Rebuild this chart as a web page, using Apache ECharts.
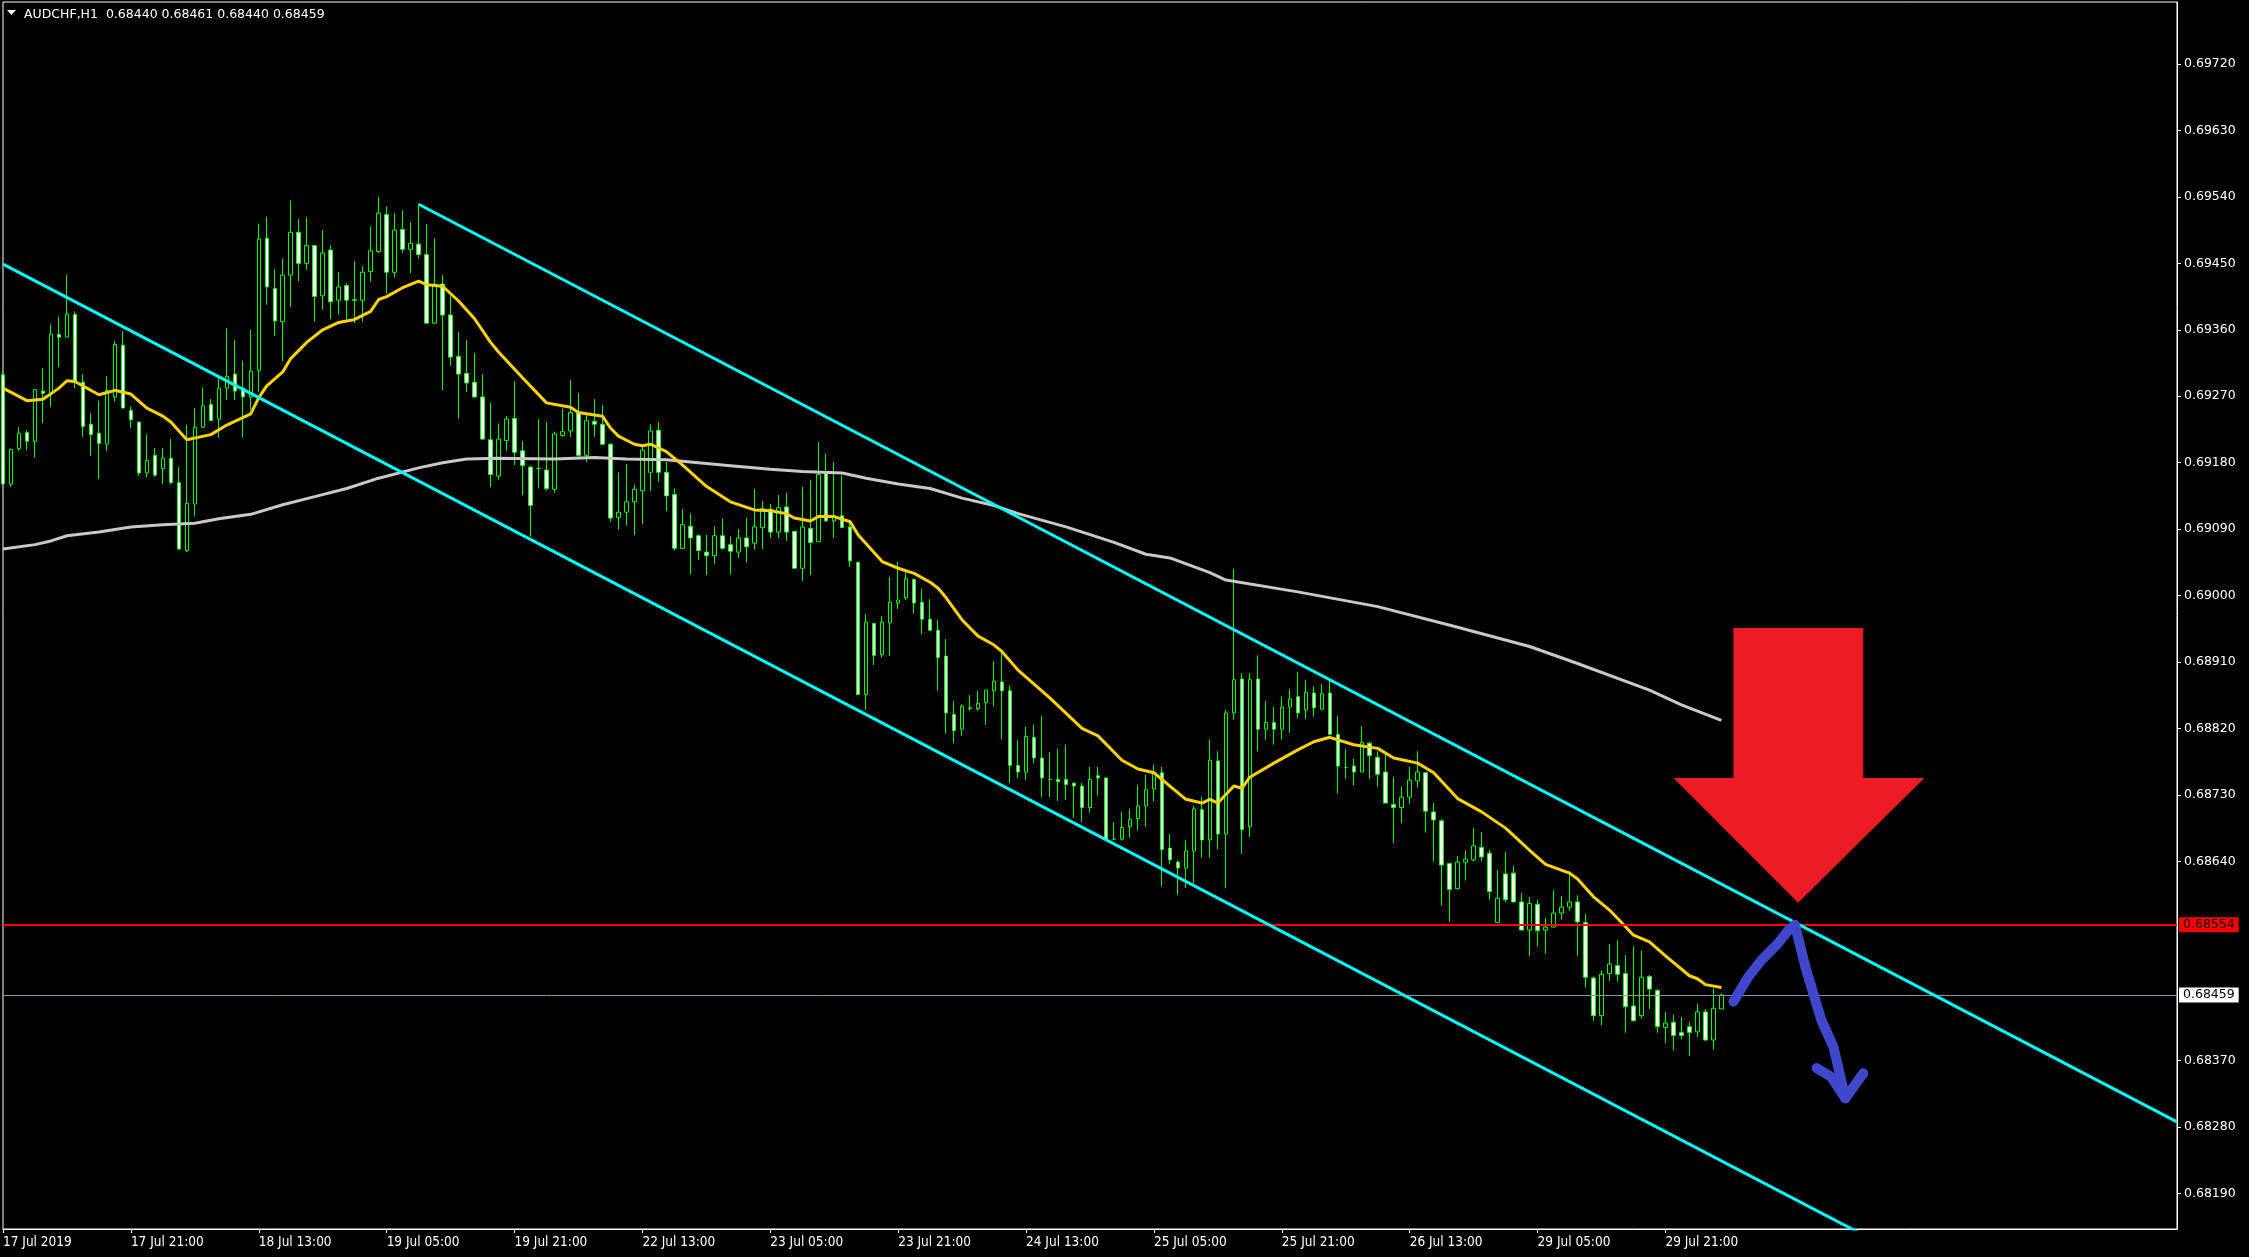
<!DOCTYPE html>
<html><head><meta charset="utf-8">
<script src="https://cdn.jsdelivr.net/npm/echarts@6/dist/echarts.min.js"></script>
<style>html,body{margin:0;padding:0;background:#000;}#c{width:2249px;height:1257px;}</style>
</head><body><div id="c"></div>
<script>
const symbolName = 'AUDCHF,H1';
const xTickLabels = ['17 Jul 2019','17 Jul 21:00','18 Jul 13:00','19 Jul 05:00','19 Jul 21:00','22 Jul 13:00','23 Jul 05:00','23 Jul 21:00','24 Jul 13:00','25 Jul 05:00','25 Jul 21:00','26 Jul 13:00','29 Jul 05:00','29 Jul 21:00'];
const barsPerLabel = 16;
const totalSlots = 273;
const yTickValues = [0.68190,0.68280,0.68370,0.68640,0.68730,0.68820,0.68910,0.69000,0.69090,0.69180,0.69270,0.69360,0.69450,0.69540,0.69630,0.69720];
const yMin = 0.68142, yMax = 0.69804;

const opens = [
0.69299,0.69151,0.69199,0.69221,0.69209,0.69277,0.69274,0.69354,0.69350,0.69381,
0.69289,0.69232,0.69220,0.69205,0.69269,0.69339,0.69251,0.69235,0.69166,0.69190,
0.69172,0.69186,0.69153,0.69061,0.69124,0.69228,0.69259,0.69239,0.69281,0.69300,
0.69281,0.69269,0.69305,0.69484,0.69416,0.69371,0.69434,0.69492,0.69450,0.69474,
0.69406,0.69468,0.69400,0.69420,0.69401,0.69400,0.69439,0.69466,0.69516,0.69438,
0.69496,0.69469,0.69476,0.69462,0.69369,0.69422,0.69380,0.69324,0.69301,0.69289,
0.69269,0.69211,0.69162,0.69210,0.69240,0.69196,0.69174,0.69172,0.69170,0.69144,
0.69217,0.69223,0.69248,0.69190,0.69236,0.69232,0.69205,0.69106,0.69113,0.69127,
0.69142,0.69167,0.69224,0.69167,0.69137,0.69064,0.69094,0.69081,0.69059,0.69054,
0.69081,0.69069,0.69059,0.69078,0.69071,0.69092,0.69117,0.69086,0.69120,0.69087,
0.69037,0.69091,0.69073,0.69166,0.69101,0.69108,0.69093,0.69045,0.68866,0.68962,
0.68920,0.68963,0.68990,0.68997,0.69022,0.68991,0.68968,0.68953,0.68918,0.68839,
0.68819,0.68847,0.68847,0.68855,0.68871,0.68883,0.68871,0.68770,0.68761,0.68808,
0.68780,0.68751,0.68751,0.68751,0.68746,0.68742,0.68713,0.68756,0.68753,0.68670,
0.68670,0.68687,0.68698,0.68715,0.68738,0.68760,0.68658,0.68639,0.68631,0.68654,
0.68710,0.68669,0.68776,0.68677,0.68841,0.68887,0.68687,0.68887,0.68819,0.68828,
0.68819,0.68849,0.68863,0.68845,0.68868,0.68846,0.68868,0.68812,0.68767,0.68769,
0.68761,0.68800,0.68781,0.68761,0.68717,0.68713,0.68727,0.68749,0.68760,0.68707,
0.68695,0.68637,0.68603,0.68639,0.68642,0.68659,0.68651,0.68557,0.68623,0.68624,
0.68585,0.68547,0.68582,0.68547,0.68551,0.68570,0.68578,0.68585,0.68557,0.68482,
0.68431,0.68488,0.68499,0.68488,0.68444,0.68431,0.68484,0.68465,0.68415,0.68422,
0.68408,0.68416,0.68409,0.68436,0.68398,0.68440];

const highs = [
0.69306,0.69199,0.69228,0.69224,0.69279,0.69308,0.69367,0.69378,0.69434,0.69385,
0.69300,0.69247,0.69264,0.69297,0.69345,0.69358,0.69256,0.69235,0.69218,0.69200,
0.69200,0.69212,0.69174,0.69231,0.69254,0.69282,0.69266,0.69297,0.69362,0.69346,
0.69318,0.69360,0.69504,0.69513,0.69442,0.69456,0.69535,0.69510,0.69512,0.69475,
0.69495,0.69474,0.69438,0.69423,0.69453,0.69446,0.69500,0.69540,0.69527,0.69518,
0.69522,0.69506,0.69530,0.69503,0.69484,0.69434,0.69407,0.69357,0.69346,0.69328,
0.69300,0.69261,0.69233,0.69243,0.69290,0.69209,0.69176,0.69239,0.69235,0.69222,
0.69253,0.69292,0.69274,0.69247,0.69266,0.69258,0.69206,0.69167,0.69178,0.69150,
0.69202,0.69232,0.69235,0.69181,0.69145,0.69117,0.69111,0.69083,0.69082,0.69094,
0.69104,0.69080,0.69090,0.69105,0.69144,0.69128,0.69124,0.69136,0.69139,0.69087,
0.69147,0.69157,0.69208,0.69192,0.69181,0.69163,0.69100,0.69046,0.68975,0.68962,
0.68972,0.69025,0.69046,0.69035,0.69022,0.69009,0.68995,0.68967,0.68941,0.68857,
0.68853,0.68865,0.68871,0.68872,0.68911,0.68924,0.68878,0.68804,0.68822,0.68825,
0.68837,0.68788,0.68792,0.68798,0.68746,0.68746,0.68768,0.68768,0.68753,0.68693,
0.68707,0.68711,0.68743,0.68757,0.68771,0.68768,0.68677,0.68641,0.68669,0.68715,
0.68727,0.68805,0.68789,0.68845,0.69036,0.68895,0.68895,0.68919,0.68857,0.68849,
0.68863,0.68873,0.68896,0.68886,0.68877,0.68880,0.68885,0.68837,0.68792,0.68779,
0.68823,0.68802,0.68789,0.68785,0.68754,0.68741,0.68768,0.68789,0.68760,0.68719,
0.68697,0.68638,0.68647,0.68655,0.68685,0.68680,0.68655,0.68628,0.68653,0.68634,
0.68597,0.68592,0.68588,0.68563,0.68601,0.68593,0.68627,0.68594,0.68569,0.68484,
0.68492,0.68528,0.68533,0.68513,0.68525,0.68519,0.68486,0.68467,0.68436,0.68432,
0.68429,0.68422,0.68447,0.68440,0.68468,0.68461];

const lows = [
0.69148,0.69147,0.69196,0.69197,0.69187,0.69234,0.69256,0.69310,0.69350,0.69281,
0.69215,0.69189,0.69158,0.69196,0.69263,0.69254,0.69227,0.69162,0.69160,0.69161,
0.69151,0.69151,0.69062,0.69059,0.69107,0.69227,0.69236,0.69214,0.69265,0.69265,
0.69214,0.69251,0.69276,0.69394,0.69352,0.69318,0.69391,0.69426,0.69441,0.69371,
0.69387,0.69375,0.69381,0.69372,0.69369,0.69371,0.69425,0.69464,0.69409,0.69431,
0.69464,0.69437,0.69457,0.69369,0.69369,0.69278,0.69311,0.69240,0.69276,0.69269,
0.69211,0.69147,0.69157,0.69196,0.69177,0.69136,0.69080,0.69145,0.69142,0.69139,
0.69215,0.69215,0.69188,0.69181,0.69215,0.69204,0.69100,0.69089,0.69095,0.69082,
0.69097,0.69142,0.69154,0.69115,0.69061,0.69064,0.69029,0.69048,0.69028,0.69043,
0.69062,0.69029,0.69051,0.69045,0.69062,0.69063,0.69078,0.69078,0.69074,0.69037,
0.69020,0.69028,0.69073,0.69100,0.69078,0.69092,0.69039,0.68866,0.68845,0.68906,
0.68916,0.68918,0.68982,0.68994,0.68976,0.68948,0.68953,0.68871,0.68813,0.68800,
0.68810,0.68844,0.68844,0.68825,0.68850,0.68805,0.68746,0.68753,0.68750,0.68773,
0.68727,0.68727,0.68722,0.68723,0.68699,0.68693,0.68706,0.68729,0.68669,0.68669,
0.68668,0.68672,0.68682,0.68687,0.68721,0.68606,0.68636,0.68595,0.68604,0.68610,
0.68645,0.68645,0.68656,0.68604,0.68832,0.68650,0.68673,0.68789,0.68805,0.68798,
0.68805,0.68814,0.68834,0.68833,0.68836,0.68845,0.68812,0.68732,0.68752,0.68743,
0.68761,0.68752,0.68741,0.68719,0.68665,0.68692,0.68718,0.68740,0.68679,0.68640,
0.68580,0.68558,0.68602,0.68614,0.68640,0.68640,0.68588,0.68557,0.68585,0.68585,
0.68546,0.68512,0.68525,0.68515,0.68551,0.68561,0.68573,0.68512,0.68469,0.68424,
0.68418,0.68478,0.68477,0.68408,0.68424,0.68427,0.68440,0.68408,0.68394,0.68384,
0.68399,0.68376,0.68402,0.68397,0.68385,0.68440];

const closes = [
0.69151,0.69198,0.69220,0.69209,0.69279,0.69274,0.69354,0.69350,0.69381,0.69290,
0.69229,0.69218,0.69206,0.69278,0.69340,0.69254,0.69238,0.69166,0.69183,0.69163,
0.69186,0.69153,0.69063,0.69125,0.69228,0.69257,0.69237,0.69281,0.69297,0.69277,
0.69269,0.69304,0.69483,0.69418,0.69372,0.69434,0.69492,0.69450,0.69474,0.69405,
0.69464,0.69398,0.69418,0.69400,0.69400,0.69438,0.69467,0.69518,0.69438,0.69495,
0.69469,0.69477,0.69462,0.69369,0.69422,0.69380,0.69323,0.69300,0.69288,0.69269,
0.69212,0.69164,0.69212,0.69239,0.69194,0.69176,0.69122,0.69172,0.69145,0.69219,
0.69222,0.69248,0.69190,0.69237,0.69232,0.69205,0.69105,0.69113,0.69127,0.69144,
0.69197,0.69223,0.69167,0.69135,0.69064,0.69096,0.69078,0.69061,0.69054,0.69081,
0.69064,0.69060,0.69078,0.69066,0.69093,0.69118,0.69086,0.69119,0.69086,0.69037,
0.69093,0.69072,0.69164,0.69101,0.69108,0.69092,0.69047,0.68866,0.68964,0.68919,
0.68964,0.68991,0.68994,0.69023,0.68990,0.68968,0.68953,0.68916,0.68841,0.68817,
0.68850,0.68848,0.68854,0.68872,0.68884,0.68871,0.68770,0.68761,0.68809,0.68780,
0.68753,0.68751,0.68748,0.68744,0.68742,0.68713,0.68751,0.68753,0.68670,0.68670,
0.68686,0.68697,0.68715,0.68737,0.68759,0.68656,0.68642,0.68631,0.68654,0.68711,
0.68669,0.68777,0.68677,0.68841,0.68886,0.68683,0.68886,0.68819,0.68828,0.68819,
0.68849,0.68860,0.68841,0.68869,0.68848,0.68867,0.68812,0.68769,0.68767,0.68761,
0.68801,0.68783,0.68758,0.68719,0.68713,0.68727,0.68750,0.68761,0.68708,0.68696,
0.68635,0.68602,0.68639,0.68643,0.68661,0.68646,0.68599,0.68590,0.68588,0.68585,
0.68547,0.68583,0.68546,0.68551,0.68570,0.68578,0.68585,0.68558,0.68483,0.68431,
0.68487,0.68501,0.68487,0.68443,0.68424,0.68483,0.68467,0.68416,0.68421,0.68404,
0.68404,0.68408,0.68436,0.68398,0.68441,0.68459];

// Moving averages: [bar index, value]
const maFast = [[0,0.69281],[3,0.69264],[5,0.69266],[7,0.69281],[8,0.69291],[9,0.69290],[12,0.69272],[14,0.69278],[16,0.69273],[18,0.69254],[20,0.69243],[21,0.69235],[23,0.69211],[26,0.69218],[28,0.69231],[31,0.69246],[32,0.69268],[33,0.69284],[35,0.69303],[36,0.69321],[38,0.69343],[40,0.69360],[42,0.69370],[44,0.69374],[46,0.69385],[47,0.69401],[48,0.69405],[50,0.69417],[52,0.69426],[53,0.69421],[55,0.69419],[57,0.69399],[59,0.69375],[61,0.69343],[62,0.69330],[65,0.69295],[68,0.69261],[71,0.69255],[72,0.69248],[75,0.69243],[76,0.69227],[77,0.69216],[79,0.69205],[80,0.69203],[81,0.69205],[83,0.69195],[85,0.69177],[88,0.69148],[91,0.69127],[94,0.69116],[96,0.69115],[98,0.69111],[99,0.69105],[101,0.69101],[102,0.69107],[104,0.69107],[106,0.69100],[107,0.69082],[110,0.69046],[112,0.69037],[114,0.69030],[116,0.69018],[117,0.69010],[118,0.68997],[120,0.68967],[122,0.68945],[124,0.68933],[125,0.68924],[127,0.68899],[131,0.68861],[135,0.68820],[137,0.68810],[140,0.68777],[142,0.68765],[144,0.68760],[146,0.68742],[148,0.68724],[150,0.68719],[151,0.68724],[152,0.68719],[154,0.68742],[155,0.68739],[156,0.68754],[159,0.68773],[162,0.68791],[164,0.68802],[166,0.68808],[169,0.68798],[172,0.68793],[174,0.68780],[177,0.68773],[179,0.68760],[182,0.68725],[185,0.68707],[188,0.68685],[190,0.68665],[191,0.68655],[193,0.68636],[196,0.68624],[197,0.68616],[199,0.68592],[201,0.68574],[202,0.68563],[204,0.68540],[206,0.68531],[208,0.68512],[211,0.68485],[212,0.68481],[213,0.68473],[215,0.68469]];
const maSlow = [[0,0.69063],[4,0.69069],[6,0.69074],[8,0.69081],[12,0.69086],[16,0.69093],[20,0.69096],[24,0.69098],[27,0.69104],[31,0.69110],[35,0.69123],[39,0.69134],[43,0.69145],[47,0.69159],[52,0.69173],[55,0.69180],[58,0.69185],[62,0.69186],[69,0.69185],[74,0.69187],[78,0.69185],[83,0.69184],[87,0.69180],[91,0.69176],[96,0.69171],[100,0.69168],[105,0.69166],[108,0.69159],[112,0.69151],[116,0.69145],[120,0.69132],[124,0.69122],[127,0.69111],[133,0.69093],[139,0.69072],[143,0.69056],[146,0.69051],[151,0.69031],[153,0.69021],[162,0.69005],[172,0.68985],[182,0.68957],[191,0.68931],[197,0.68908],[206,0.68872],[210,0.68852],[215,0.68831]];

// Channel trend lines: [bar index, price]
const channelLower = [[0,0.69449],[240,0.68093]];
const channelUpper = [[52,0.69530],[272,0.68287]];
const resistanceLevel = 0.68554;

// Hand-drawn annotations in data space: [bar index, price]
const redArrow = [[216.5,0.68956],[232.75,0.68956],[232.75,0.68753],[240.4,0.68753],[224.6,0.68584],[209,0.68753],[216.5,0.68753]];
const bluePath = [[216.5,0.68450],[218.4,0.68484],[220.0,0.68506],[222.1,0.68529],[223.4,0.68547],[224.2,0.68554],[225.5,0.68497],[227.5,0.68425],[229.0,0.68389],[229.6,0.68362],[230.5,0.68319]];
const blueHead = [[226.9,0.68360],[228.75,0.68348],[230.5,0.68319],[232.75,0.68353]];

const n = opens.length;
const slots = [];
for (let i = 0; i < totalSlots; i++) slots.push('b' + i);
const candleData = opens.map((o, i) => [o, closes[i], lows[i], highs[i]]);
const last = n - 1;
const fmt = v => v.toFixed(5);
const header = symbolName + '  ' + fmt(opens[last]) + ' ' + fmt(highs[last]) + ' ' + fmt(lows[last]) + ' ' + fmt(closes[last]);
const lastClose = closes[last];

const showTick = (idx) => idx % barsPerLabel === 0 && idx / barsPerLabel < xTickLabels.length;

const chart = echarts.init(document.getElementById('c'), null, {renderer: 'canvas', width: 2249, height: 1257});
const axisFont = 'DejaVu Sans';
const priceLabel = (bg) => ({show: true, position: 'end', distance: 2, color: '#000', backgroundColor: bg, fontSize: 12.5, fontFamily: axisFont, padding: [1, 4, 1, 4]});
const option = {
  backgroundColor: '#000',
  animation: false,
  title: {
    text: header, left: 24, top: 8, padding: 0,
    textStyle: {color: '#fff', fontSize: 12.5, fontWeight: 'normal', fontFamily: axisFont}
  },
  grid: {left: 3, right: 72, top: 2, bottom: 28, show: true, backgroundColor: '#000', borderColor: '#fff', borderWidth: 1},
  xAxis: {
    type: 'category', data: slots, boundaryGap: false,
    axisLine: {show: true, lineStyle: {color: '#fff', width: 1}},
    axisTick: {show: true, length: 4, interval: showTick, lineStyle: {color: '#fff'}},
    axisLabel: {
      show: true, interval: showTick, align: 'left', margin: 6,
      formatter: (v, i) => showTick(i) ? xTickLabels[i / barsPerLabel] : '',
      color: '#fff', fontFamily: 'DejaVu Sans Condensed', fontSize: 13.5
    },
    splitLine: {show: false}
  },
  yAxis: {
    type: 'value', position: 'right', min: yMin, max: yMax, scale: true,
    splitLine: {show: false},
    axisLine: {show: true, onZero: false, lineStyle: {color: '#fff', width: 1}},
    axisTick: {show: true, length: 4, customValues: yTickValues, lineStyle: {color: '#fff'}},
    axisLabel: {customValues: yTickValues, formatter: v => v.toFixed(5), color: '#fff', fontSize: 12.5, fontFamily: axisFont, margin: 7}
  },
  series: [
    {
      type: 'candlestick', data: candleData, barWidth: 4, z: 2,
      itemStyle: {color: '#000', color0: '#fff', borderColor: '#00ff00', borderColor0: '#00ff00', borderColorDoji: '#00ff00', borderWidth: 1}
    },
    {
      type: 'line', data: maSlow, symbol: 'none', z: 3, lineStyle: {color: '#c8c8c8', width: 3},
      markLine: {
        silent: true, symbol: ['none', 'none'], animation: false, precision: 5,
        data: [
          {yAxis: resistanceLevel, lineStyle: {color: '#ff0000', width: 2, type: 'solid'}, label: Object.assign(priceLabel('#ff0000'), {formatter: () => fmt(resistanceLevel)})},
          {yAxis: lastClose, lineStyle: {color: '#8c959e', width: 1, type: 'solid'}, label: Object.assign(priceLabel('#ffffff'), {formatter: () => fmt(lastClose)})}
        ]
      }
    },
    {type: 'line', data: maFast, symbol: 'none', z: 4, lineStyle: {color: '#ffd200', width: 3}},
    {type: 'line', data: channelLower, symbol: 'none', z: 5, lineStyle: {color: '#00ffff', width: 3}},
    {type: 'line', data: channelUpper, symbol: 'none', z: 5, lineStyle: {color: '#00ffff', width: 3}}
  ]
};
chart.setOption(option);

function px(idx, val) {
  const p0 = chart.convertToPixel({gridIndex: 0}, [0, val]);
  const p1 = chart.convertToPixel({gridIndex: 0}, [1, val]);
  return [p0[0] + idx * (p1[0] - p0[0]), p0[1]];
}
chart.setOption({
  graphic: [
    {type: 'polygon', shape: {points: [[7, 10], [16, 10], [11.5, 15]]}, style: {fill: '#fff'}, z: 100},
    {type: 'polygon', shape: {points: redArrow.map(p => px(p[0], p[1]))}, style: {fill: '#ed1c24'}, z: 100},
    {type: 'polyline', shape: {points: bluePath.map(p => px(p[0], p[1]))}, style: {stroke: '#3f48cc', lineWidth: 10, lineCap: 'round', lineJoin: 'round', fill: null}, z: 101},
    {type: 'polyline', shape: {points: blueHead.map(p => px(p[0], p[1]))}, style: {stroke: '#3f48cc', lineWidth: 10, lineCap: 'round', lineJoin: 'round', fill: null}, z: 101}
  ]
});
</script>
</body></html>
